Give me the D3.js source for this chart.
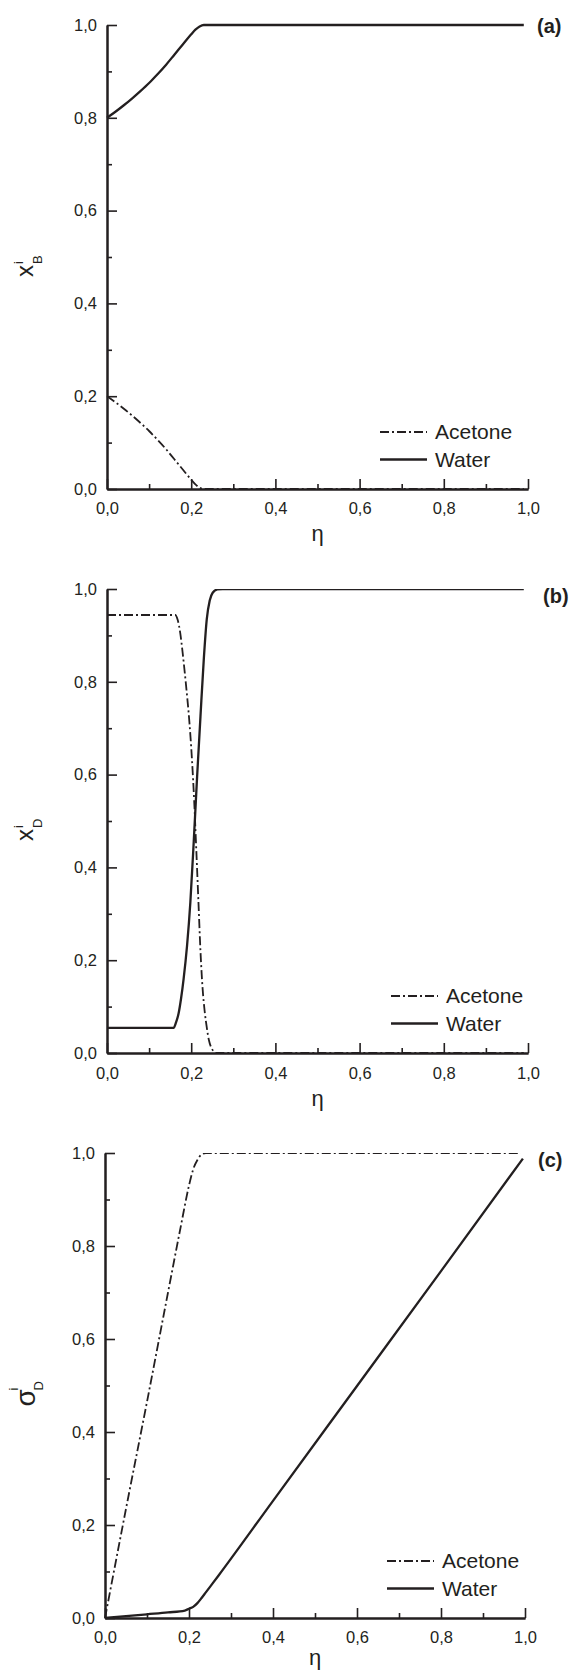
<!DOCTYPE html>
<html>
<head>
<meta charset="utf-8">
<script src="https://cdn.jsdelivr.net/npm/d3@7"></script>
<style>
  body { margin: 0; background: #fff; }
  text { font-family: "Liberation Sans", Arial, sans-serif; fill: #231f20; }
</style>
</head>
<body>
<div id="chart"></div>
<script>
var width = 570, height = 1674
var ink = "#231f20"

// axis ticks
var majorTicks = [0, 0.2, 0.4, 0.6, 0.8, 1.0]
var minorTicks = [0.1, 0.3, 0.5, 0.7, 0.9]
var seriesNames = ["Acetone", "Water"]

// (a) x_B^i vs eta  -- [eta, value]
var acetoneA = [[0, 0.2], [0.02, 0.187], [0.04, 0.173], [0.06, 0.158], [0.08, 0.142], [0.10, 0.125],
  [0.12, 0.106], [0.14, 0.086], [0.16, 0.064], [0.18, 0.042], [0.20, 0.02], [0.21, 0.01],
  [0.22, 0.003], [0.23, 0], [0.99, 0]]
var waterA = [[0, 0.8], [0.02, 0.813], [0.04, 0.827], [0.06, 0.842], [0.08, 0.858], [0.10, 0.875],
  [0.12, 0.894], [0.14, 0.914], [0.16, 0.936], [0.18, 0.958], [0.20, 0.98], [0.21, 0.99],
  [0.22, 0.997], [0.23, 1.0], [0.99, 1.0]]

// (b) x_D^i vs eta
var acetoneB = [[0, 0.944], [0.162, 0.944], [0.168, 0.933], [0.174, 0.905], [0.18, 0.86], [0.188, 0.79],
  [0.196, 0.71], [0.202, 0.63], [0.207, 0.545], [0.212, 0.44], [0.217, 0.33], [0.222, 0.22],
  [0.227, 0.14], [0.232, 0.09], [0.237, 0.055], [0.242, 0.028], [0.247, 0.013], [0.253, 0.004],
  [0.26, 0], [0.99, 0]]
var waterB = [[0, 0.054], [0.158, 0.054], [0.164, 0.066], [0.17, 0.085], [0.176, 0.118], [0.182, 0.16],
  [0.19, 0.23], [0.198, 0.325], [0.206, 0.455], [0.214, 0.595], [0.222, 0.725], [0.23, 0.85],
  [0.237, 0.935], [0.244, 0.975], [0.251, 0.992], [0.262, 0.999], [0.275, 1.0], [0.99, 1.0]]

// (c) sigma_D^i vs eta
var acetoneC = [[0, 0], [0.05, 0.235], [0.10, 0.465], [0.15, 0.70], [0.18, 0.84], [0.20, 0.93],
  [0.21, 0.965], [0.22, 0.985], [0.23, 0.997], [0.24, 1.0], [0.99, 1.0]]
var waterC = [[0, 0], [0.05, 0.004], [0.10, 0.008], [0.15, 0.012], [0.19, 0.016], [0.20, 0.02],
  [0.21, 0.024], [0.22, 0.032], [0.23, 0.043], [0.24, 0.055], [0.25, 0.067], [0.27, 0.091],
  [0.40, 0.252], [0.60, 0.499], [0.80, 0.746], [0.995, 0.988]]

// layout of the three stacked panels
var panels = [
  {key: "a", sym: "x", sub: "B", acetone: acetoneA, water: waterA,
   top: 25, bottom: 489, left: 107, right: 528, legendX: 380, tagX: 537, tagY: 33, etaDy: 52, tickDy: 13, clip: false},
  {key: "b", sym: "x", sub: "D", acetone: acetoneB, water: waterB,
   top: 589, bottom: 1053, left: 107, right: 528, legendX: 391, tagX: 543, tagY: 603, etaDy: 53, tickDy: 14, clip: true},
  {key: "c", sym: "\u03C3", sub: "D", acetone: acetoneC, water: waterC,
   top: 1153, bottom: 1618, left: 105, right: 525, legendX: 387, tagX: 538, tagY: 1167, etaDy: 47, tickDy: 13, clip: true}
]

var fmt = d3.formatLocale({decimal: ",", thousands: ".", grouping: [3], currency: ["", ""]}).format(".1f")

var svg = d3.select("#chart")
    .append("svg")
    .attr("width", width)
    .attr("height", height)

svg.append("rect")
    .attr("width", width).attr("height", height)
    .style("fill", "#fff")

var defs = svg.append("defs")

function styleAxis(s) {
  s.attr("font-size", null).attr("font-family", null)
  s.select(".domain").attr("stroke", ink).attr("stroke-width", 2)
  s.selectAll(".tick line").attr("stroke", ink).attr("stroke-width", 1.6)
  s.selectAll(".tick text").style("font-size", "16.5px")
}

panels.forEach(function(p) {
  var x = d3.scaleLinear().domain([0, 1]).range([p.left, p.right])
  var y = d3.scaleLinear().domain([0, 1]).range([p.bottom, p.top])
  var g = svg.append("g").attr("id", "panel" + p.key)

  defs.append("clipPath").attr("id", "clip" + p.key)
    .append("rect")
    .attr("x", p.left - 3)
    .attr("y", p.clip ? p.top : p.top - 4)
    .attr("width", p.right - p.left + 6)
    .attr("height", p.bottom - p.top + 8)

  var line = d3.line()
      .x(function(d) { return x(d[0]) })
      .y(function(d) { return y(d[1]) })
      .curve(d3.curveMonotoneX)

  var curves = g.append("g").attr("clip-path", "url(#clip" + p.key + ")")
  curves.append("path")
      .datum(p.acetone)
      .attr("d", line)
      .style("fill", "none").style("stroke", ink)
      .style("stroke-width", 1.8)
      .style("stroke-dasharray", "9,3,2,3")
  curves.append("path")
      .datum(p.water)
      .attr("d", line)
      .style("fill", "none").style("stroke", ink)
      .style("stroke-width", 2.3)

  // axes, ticks pointing inward
  g.append("g").attr("transform", "translate(0," + p.bottom + ")")
      .call(d3.axisBottom(x).tickValues(minorTicks).tickSizeInner(-5).tickSizeOuter(0).tickFormat(""))
      .call(styleAxis)
  g.append("g").attr("transform", "translate(0," + p.bottom + ")")
      .call(d3.axisBottom(x).tickValues(majorTicks).tickSizeInner(-10).tickSizeOuter(0).tickPadding(p.tickDy).tickFormat(fmt))
      .call(styleAxis)
  g.append("g").attr("transform", "translate(" + p.left + ",0)")
      .call(d3.axisLeft(y).tickValues(minorTicks).tickSizeInner(-5).tickSizeOuter(0).tickFormat(""))
      .call(styleAxis)
  g.append("g").attr("transform", "translate(" + p.left + ",0)")
      .call(d3.axisLeft(y).tickValues(majorTicks).tickSizeInner(-10).tickSizeOuter(0).tickPadding(10).tickFormat(fmt))
      .call(styleAxis)

  // x title
  g.append("text")
      .attr("x", (p.left + p.right) / 2)
      .attr("y", p.bottom + p.etaDy)
      .attr("text-anchor", "middle")
      .style("font-size", "22px")
      .text("\u03B7")

  // y title: symbol with superscript i and subscript
  var mid = (p.top + p.bottom) / 2
  var big = p.sym == "x" ? 24 : 28
  var yl = g.append("g")
      .attr("transform", "translate(" + (p.sym == "x" ? 33 : 35) + "," + (mid + (p.sym == "x" ? 20 : 21)) + ") rotate(-90)")
  yl.append("text").attr("x", 0).attr("y", 0).style("font-size", big + "px").text(p.sym)
  var bw = p.sym == "x" ? 13 : 16
  yl.append("text").attr("x", bw).attr("y", p.sym == "x" ? -10 : -17).style("font-size", "13px").text("i")
  yl.append("text").attr("x", bw).attr("y", p.sym == "x" ? 9 : 8).style("font-size", "13px").text(p.sub)

  // panel tag
  g.append("text")
      .attr("x", p.tagX).attr("y", p.tagY)
      .style("font-size", "20px").style("font-weight", "bold")
      .text("(" + p.key + ")")

  // legend
  var leg = g.append("g").attr("transform", "translate(" + p.legendX + "," + p.bottom + ")")
  seriesNames.forEach(function(name, i) {
    var base = i == 0 ? -50 : -22.5
    leg.append("line")
        .attr("x1", 0).attr("x2", 47)
        .attr("y1", base - 7).attr("y2", base - 7)
        .style("stroke", ink)
        .style("stroke-width", i == 0 ? 1.8 : 2.3)
        .style("stroke-dasharray", i == 0 ? "9,3,2,3" : null)
    leg.append("text")
        .attr("x", 55).attr("y", base)
        .style("font-size", "21px")
        .text(name)
  })
})
</script>
</body>
</html>
